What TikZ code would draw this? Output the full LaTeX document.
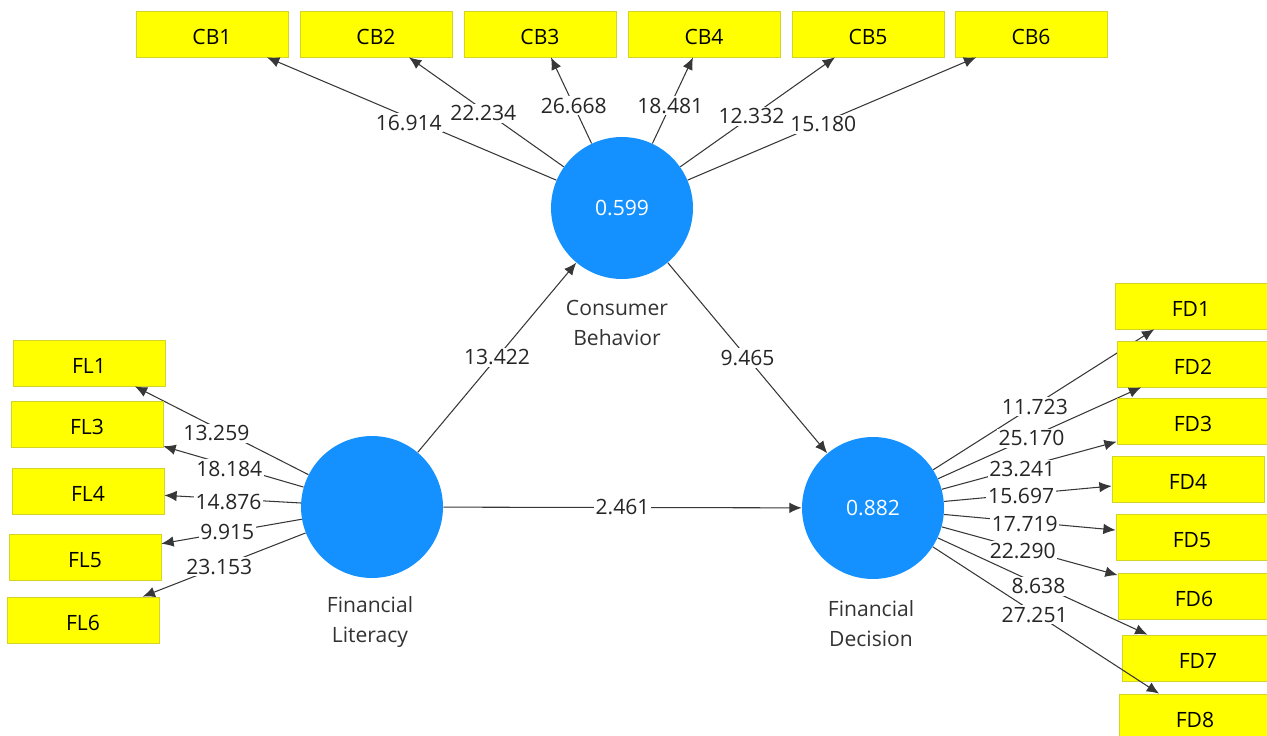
\documentclass[tikz,border=0pt]{standalone}
\usepackage{fontspec}
\setmainfont{Open Sans}
\usetikzlibrary{arrows.meta}
\definecolor{latentblue}{RGB}{20,145,255}
\definecolor{itemyellow}{RGB}{255,255,0}
\definecolor{itemborder}{RGB}{212,212,40}
\definecolor{loadgray}{RGB}{55,55,55}

\begin{document}
\begin{tikzpicture}[x=0.02cm, y=-0.02cm,
    item/.style={draw=itemborder, fill=itemyellow, minimum width=3.04cm, minimum height=0.92cm,
        inner sep=0pt, text height=12pt, text depth=0pt, font=\fontsize{12}{14}\selectfont},
    latent/.style={circle, fill=latentblue, minimum size=2.84cm, inner sep=0pt, text=white,
        font=\fontsize{12}{14}\selectfont},
    load/.style={draw=loadgray, line width=0.6pt, -{Latex[length=7pt, width=6pt]}},
    val/.style={fill=white, inner sep=1pt, text=black!85, font=\fontsize{12}{14}\selectfont},
    caption/.style={align=center, text=black!80, font=\fontsize{12}{17}\selectfont}]

    % frame of the picture
    \useasboundingbox (0,0) rectangle (1267,736);
    \clip (0,0) rectangle (1267,736);

    % 1. Latent variables
    \node[latent] (CB) at (622,208) {0.599};
    \node[latent] (FL) at (372,507) {};
    \node[latent] (FD) at (873,508) {0.882};

    \node[caption] (CBname) at (617,323) {Consumer\\Behavior};
    \node[caption] (FLname) at (370,622) {Financial\\Literacy};
    \node[caption] (FDname) at (871,624) {Financial\\Decision};

    % 2. Consumer Behavior indicators
    \foreach \name/\x/\val/\p/\dy in {
        CB1/212/16.914/0.51/-3pt, CB2/376/22.234/0.52/-2pt, CB3/540/26.668/0.44/0pt,
        CB4/704/18.481/0.44/0pt, CB5/868/12.332/0.46/0pt, CB6/1031/15.180/0.47/-1pt
    } {
        \node[item] (\name) at (\x,34) {\name};
        \draw[load] (CB) -- (\name) node[val, pos=\p, yshift=\dy] {\val};
    }

    % 3. Financial Literacy indicators
    \foreach \name/\x/\y/\val/\dy in {
        FL1/89/363/13.259/-3pt, FL3/87/424/18.184/-2pt, FL4/88/491/14.876/-2pt,
        FL5/85/557/9.915/0pt, FL6/83/620/23.153/0pt
    } {
        \node[item] (\name) at (\x,\y) {\name};
        \draw[load] (FL) -- (\name) node[val, pos=0.53, yshift=\dy] {\val};
    }

    % 4. Financial Decision indicators
    \foreach \name/\x/\y/\val/\p in {
        FD1/1191/306/11.723/0.46, FD2/1193/364/25.170/0.46, FD3/1193/421/23.241/0.46,
        FD4/1188/479/15.697/0.46, FD5/1192/537/17.719/0.47, FD6/1194/596/22.290/0.46,
        FD7/1198/658/8.638/0.48, FD8/1195/717/27.251/0.45
    } {
        \node[item] (\name) at (\x,\y) {\name};
        \draw[load] (FD) -- (\name) node[val, pos=\p, yshift=-1pt] {\val};
    }

    % 5. Structural paths
    \draw[load] (FL) -- (CB) node[val, midway] {13.422};
    \draw[load] (CB) -- (FD) node[val, midway] {9.465};
    \draw[load] (FL) -- (FD) node[val, midway] {2.461};

\end{tikzpicture}
\end{document}
